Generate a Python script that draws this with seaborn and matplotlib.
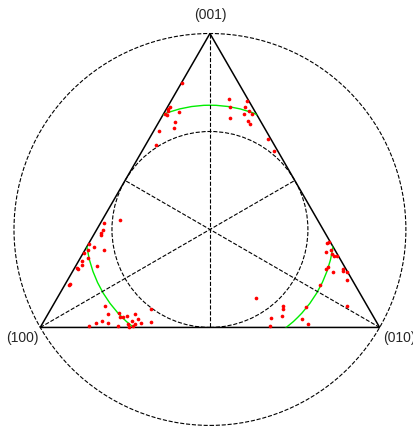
import numpy as np
import pandas as pd
import matplotlib
matplotlib.use("Agg")
import matplotlib.pyplot as plt
import seaborn as sns
from matplotlib.patches import Circle, Polygon

# pole positions (projected, unit = circumscribed circle radius, centre at 0,0)
pole_x = [
    -0.144, -0.204, -0.213, -0.213, -0.230, -0.221, -0.157, -0.177, -0.182, -0.260, -0.276,
    0.098, 0.102, 0.102, 0.190, 0.177, 0.199, 0.172, 0.216, 0.195, 0.203, 0.294, 0.328,
    -0.539, -0.458, -0.547, -0.555, -0.556, -0.616, -0.592, -0.624, -0.542, -0.641, -0.622,
    -0.652, -0.652, -0.577, -0.680, -0.675, -0.716, -0.721, -0.534, -0.301, -0.522, -0.464,
    -0.461, -0.442, -0.425, -0.381, -0.367, -0.399, -0.551, -0.582, -0.520, -0.418, -0.384,
    -0.354, -0.301, -0.619, -0.468, -0.412, -0.391,
    0.598, 0.607, 0.619, 0.592, 0.624, 0.634, 0.648, 0.604, 0.593, 0.629, 0.677, 0.680,
    0.699, 0.701, 0.561, 0.235, 0.701, 0.371, 0.371, 0.491, 0.367, 0.311, 0.469, 0.498, 0.308,
]
pole_y = [
    0.746, 0.623, 0.613, 0.605, 0.588, 0.583, 0.598, 0.548, 0.516, 0.501, 0.430,
    0.664, 0.623, 0.567, 0.657, 0.627, 0.606, 0.591, 0.588, 0.554, 0.538, 0.463, 0.401,
    0.035, 0.047, -0.001, -0.016, -0.030, -0.076, -0.088, -0.103, -0.103, -0.120, -0.145,
    -0.161, -0.183, -0.185, -0.196, -0.203, -0.278, -0.282, -0.389, -0.407, -0.430, -0.428,
    -0.445, -0.448, -0.441, -0.430, -0.458, -0.468, -0.468, -0.476, -0.476, -0.482, -0.482,
    -0.477, -0.470, -0.491, -0.492, -0.497, -0.494,
    -0.070, -0.065, -0.106, -0.115, -0.123, -0.135, -0.135, -0.193, -0.203, -0.218, -0.202, -0.210,
    -0.218, -0.258, -0.282, -0.351, -0.389, -0.390, -0.404, -0.394, -0.443, -0.453, -0.457, -0.481, -0.494,
]

vertex_labels = ["(001)", "(100)", "(010)"]
vertex_angles = [90, 210, 330]
green_radius = 0.634

sns.set_style("white")
plt.rcParams["font.family"] = ["Liberation Sans", "DejaVu Sans"]

fig = plt.figure(figsize=(4.14, 4.26), dpi=100)
ax = fig.add_axes([0, 0, 1, 1])

ang = np.deg2rad(vertex_angles)
vx, vy = np.cos(ang), np.sin(ang)

# circles
ax.add_patch(Circle((0, 0), 1.0, fill=False, ls="--", lw=0.8, color="black"))
ax.add_patch(Circle((0, 0), 0.5, fill=False, ls="--", lw=0.8, color="black"))

# medians
for i in range(3):
    j, k = (i + 1) % 3, (i + 2) % 3
    mx, my = (vx[j] + vx[k]) / 2, (vy[j] + vy[k]) / 2
    ax.plot([vx[i], mx], [vy[i], my], ls="--", lw=0.8, color="black")

# triangle
tri = Polygon(np.column_stack([vx, vy]), closed=True, fill=False, lw=1.1, color="black")
ax.add_patch(tri)

# green circle clipped to the triangle
clip = Polygon(np.column_stack([vx, vy]), closed=True, transform=ax.transData)
g = Circle((0, 0), green_radius, fill=False, lw=1.0, color="#00ee00")
ax.add_patch(g)
g.set_clip_path(clip)

df = pd.DataFrame({"x": pole_x, "y": pole_y})
sns.scatterplot(data=df, x="x", y="y", ax=ax, color="red", marker="o", s=7,
                linewidth=0, zorder=5)

# vertex labels
ax.text(0, 1.094, vertex_labels[0], ha="center", va="center", fontsize=10)
ax.text(-0.955, -0.554, vertex_labels[1], ha="center", va="center", fontsize=10)
ax.text(0.965, -0.554, vertex_labels[2], ha="center", va="center", fontsize=10)

ax.set_xlim(-1.071, 1.041)
ax.set_ylim(-1.003, 1.171)
ax.set_aspect("equal")
ax.axis("off")

fig.savefig("out.png", dpi=100)
